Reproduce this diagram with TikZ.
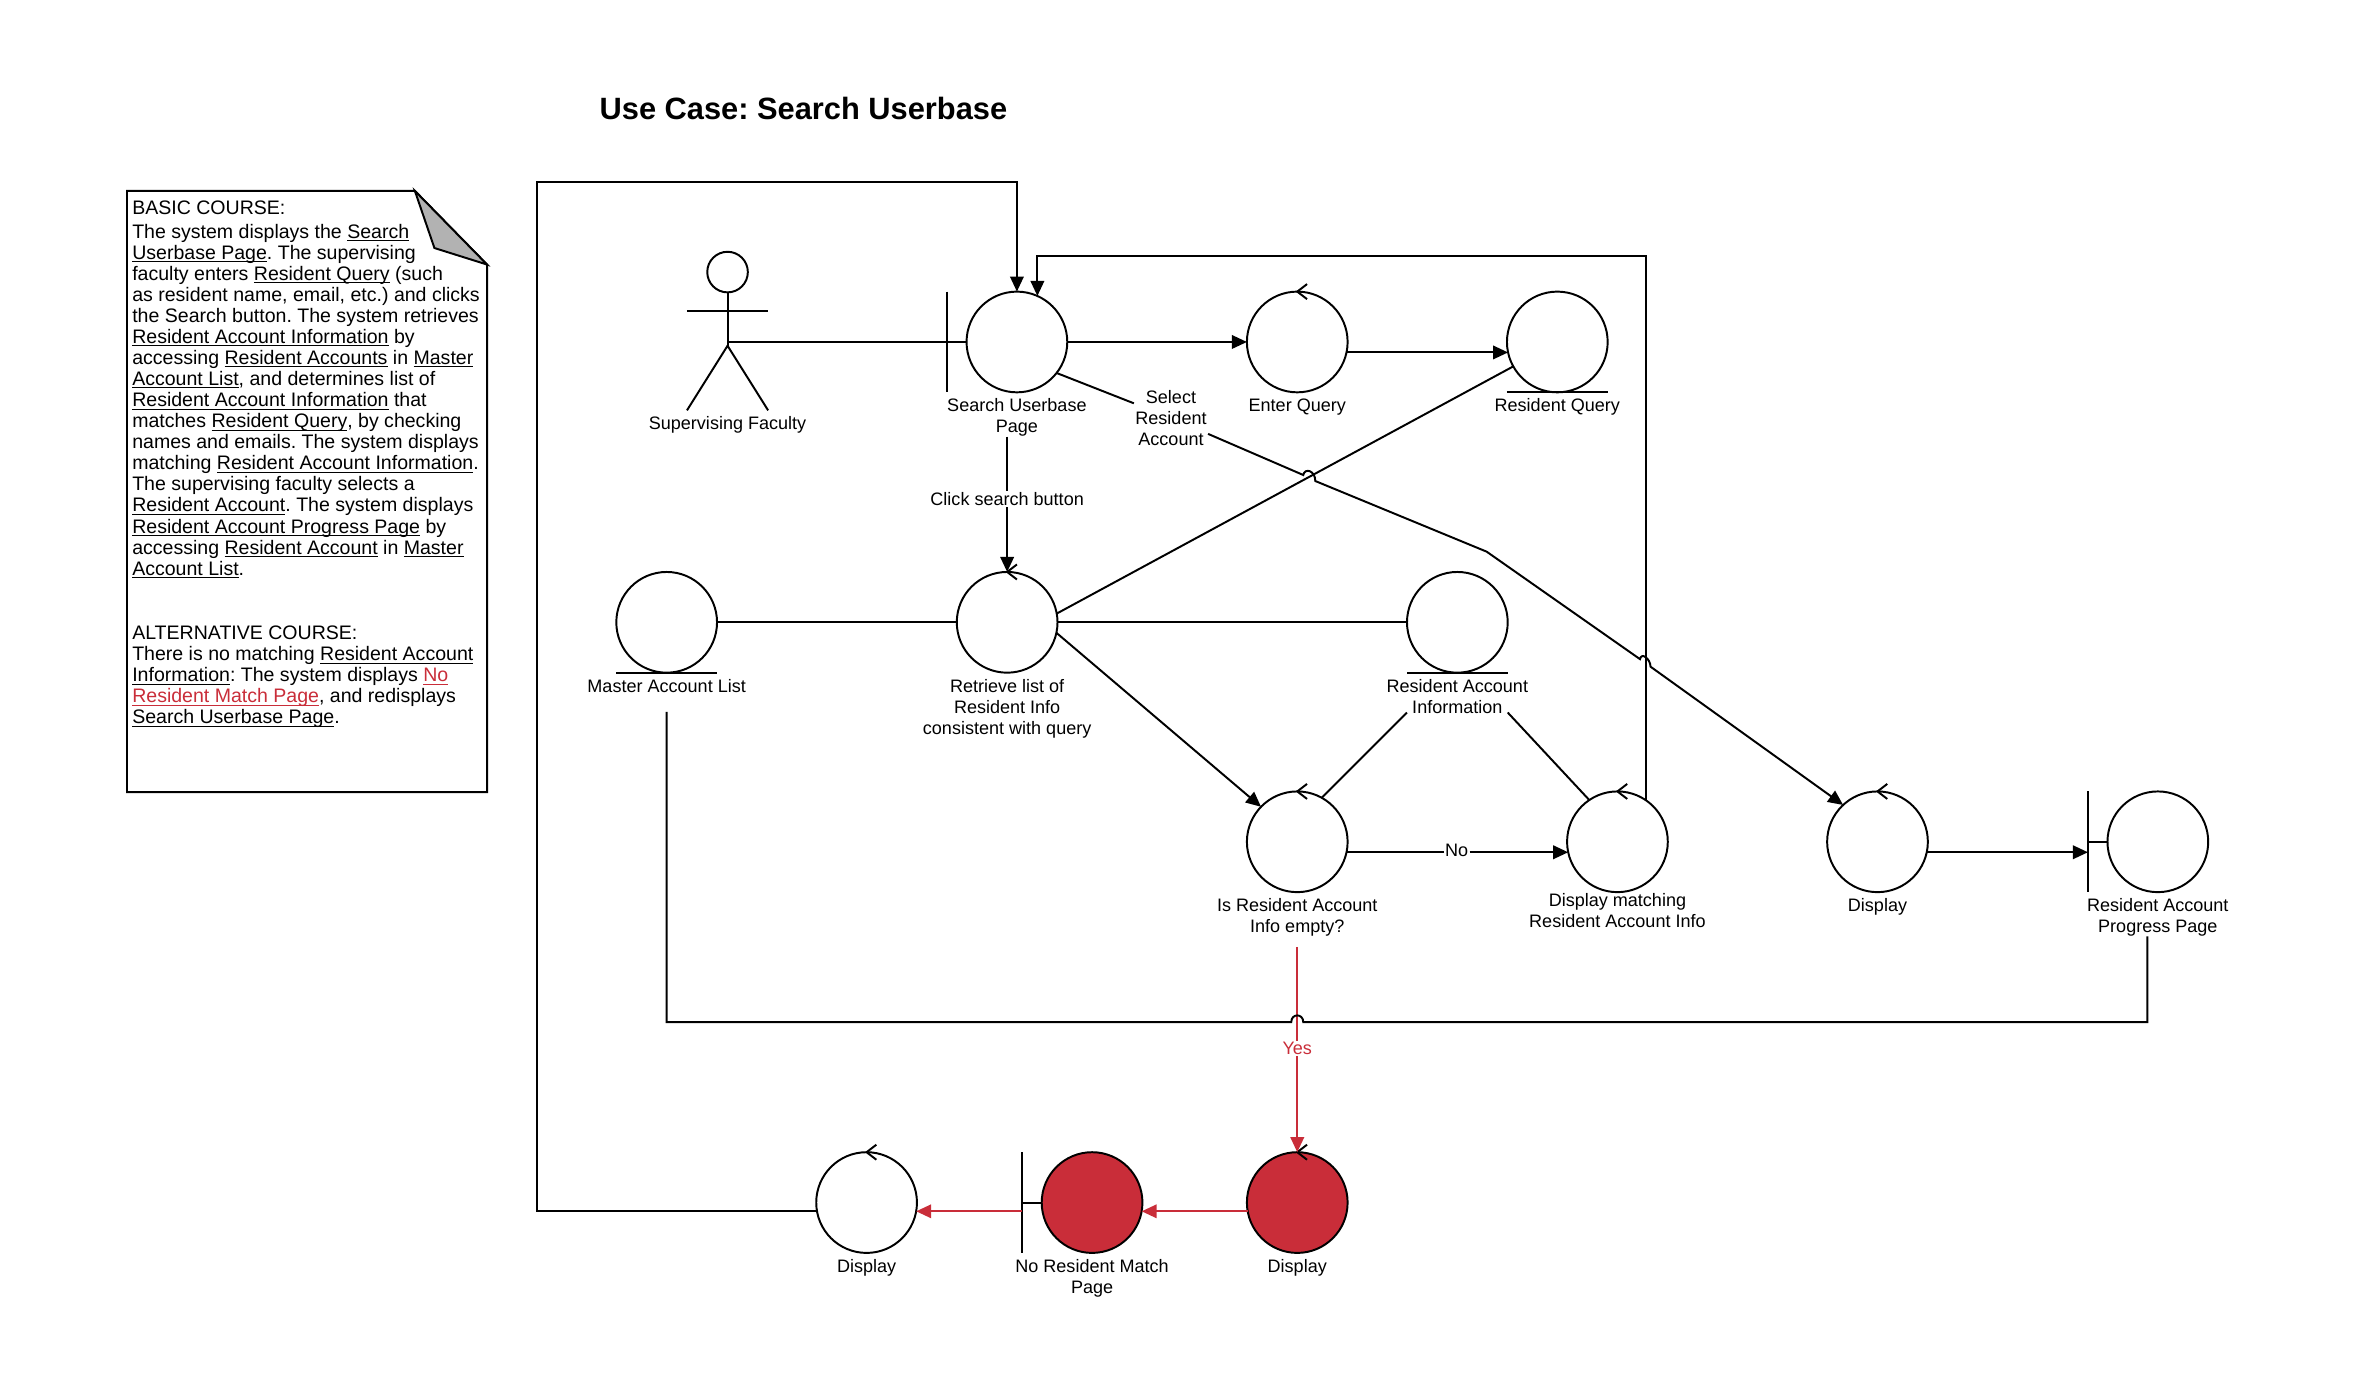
\documentclass[tikz,border=0pt]{standalone}
\usepackage{fontspec}
\setmainfont{Liberation Sans}
\usetikzlibrary{arrows.meta, positioning}
\definecolor{resred}{HTML}{C92D39}
\newcommand{\ulink}[1]{\underline{\smash{#1}}}
\frenchspacing

\begin{document}
\begin{tikzpicture}[
    x=1pt, y=-1pt,
    line width=1.3pt,
    obj/.style={circle, draw, fill=white, minimum size=67pt, inner sep=0pt, outer sep=0pt},
    lbl/.style={inner sep=0pt, outer sep=0pt, align=center, font=\fontsize{12}{14}\selectfont},
    gaplbl/.style={lbl, inner sep=1pt},
    flow/.style={-{Triangle[length=10pt,width=9pt]}},
    redflow/.style={flow, draw=resred}
]
\useasboundingbox (0,0) rectangle (1568,920);

% Title
\node[font=\fontsize{20.5}{24}\selectfont\bfseries] (title) at (534.5,72) {Use Case: Search Userbase};

% Note page
\coordinate (foldtop) at (276,127);
\coordinate (foldin) at (289,165);
\coordinate (foldright) at (324,176);
\draw (84.5,127) -- (foldtop) -- (foldright) -- (324,527) -- (84.5,527) -- cycle;
\draw[fill=black!30] (foldtop) -- (foldin) -- (foldright) -- cycle;
\node[lbl, anchor=north west, align=left, font=\fontsize{13}{14}\selectfont] (course) at (88,133.5) {%
BASIC COURSE:\\[2pt]
The system displays the \ulink{Search}\\
\ulink{Userbase Page}. The supervising\\
faculty enters \ulink{Resident Query} (such\\
as resident name, email, etc.) and clicks\\
the Search button. The system retrieves\\
\ulink{Resident Account Information} by\\
accessing \ulink{Resident Accounts} in \ulink{Master}\\
\ulink{Account List}, and determines list of\\
\ulink{Resident Account Information} that\\
matches \ulink{Resident Query}, by checking\\
names and emails. The system displays\\
matching \ulink{Resident Account Information}.\\
The supervising faculty selects a\\
\ulink{Resident Account}. The system displays\\
\ulink{Resident Account Progress Page} by\\
accessing \ulink{Resident Account} in \ulink{Master}\\
\ulink{Account List}.\\[29pt]
ALTERNATIVE COURSE:\\
There is no matching \ulink{Resident Account}\\
\ulink{Information}: The system displays \textcolor{resred}{\ulink{No}}\\
\textcolor{resred}{\ulink{Resident Match Page}}, and redisplays\\
\ulink{Search Userbase Page}.};

% Actor
\node[circle, draw, minimum size=27pt, inner sep=0pt] (head) at (484,181) {};
\coordinate (waist) at (484,230);
\draw (head) -- (waist);
\draw (457,207) -- (511,207);
\draw (457,273) -- (waist) -- (511,273);
\node[lbl] (actorlbl) at (484,282.4) {Supervising Faculty};

% Top row
\node[obj] (search) at (676.5,227.5) {};
\node[obj, right=119.5pt of search] (enter) {};
\node[obj, right=106pt of enter] (resquery) {};

% Middle row
\node[obj, below=119.5pt of search, xshift=-6.5pt] (retrieve) {};
\node[obj, left=159.5pt of retrieve] (master) {};
\node[obj, right=232.5pt of retrieve] (info) {};

% Lower row
\node[obj, below=265.5pt of enter] (isempty) {};
\node[obj, right=146pt of isempty] (match) {};
\node[obj, right=106pt of match] (dispa) {};
\node[obj, right=119.5pt of dispa] (progress) {};

% Bottom row
\node[obj, below=173pt of isempty, fill=resred] (dispred) {};
\node[obj, left=69.5pt of dispred, fill=resred] (nomatch) {};
\node[obj, left=83pt of nomatch] (dispw) {};

% Labels
\node[lbl, below=4.2pt of search] (searchlbl) {Search Userbase\\Page};
\node[lbl, below=4.2pt of enter] (enterlbl) {Enter Query};
\node[lbl, below=4.2pt of resquery] (resquerylbl) {Resident Query};
\node[lbl, below=4.2pt of retrieve] (retrievelbl) {Retrieve list of\\Resident Info\\consistent with query};
\node[lbl, below=4.2pt of master] (masterlbl) {Master Account List};
\node[lbl, below=4.2pt of info] (infolbl) {Resident Account\\Information};
\node[lbl, below=4.2pt of isempty] (isemptylbl) {Is Resident Account\\Info empty?};
\node[lbl, below=1pt of match] (matchlbl) {Display matching\\Resident Account Info};
\node[lbl, below=4.2pt of dispa] (dispalbl) {Display};
\node[lbl, below=4.2pt of progress] (progresslbl) {Resident Account\\Progress Page};
\node[lbl, below=4.2pt of dispred] (dispredlbl) {Display};
\node[lbl, below=4.2pt of nomatch] (nomatchlbl) {No Resident Match\\Page};
\node[lbl, below=4.2pt of dispw] (dispwlbl) {Display};

% Entity underlines
\foreach \n in {resquery,master,info} {
    \draw (\n.west |- \n.south) -- (\n.east |- \n.south);
}

% Control ticks
\foreach \n in {enter,retrieve,isempty,match,dispa,dispw,dispred} {
    \draw (\n.north) ++(6.5,-5) -- (\n.north) -- ++(6.5,5);
}

% Boundary bars
\foreach \n in {search,progress,nomatch} {
    \coordinate (\n bar) at ([xshift=-13pt]\n.west);
    \draw (\n bar |- \n.north) -- (\n bar |- \n.south);
    \draw (\n bar) -- (\n.west);
}

% Connector points
\node[gaplbl] (clicklbl) at (670,332) {Click search button};
\node[gaplbl] (selectlbl) at (779,278) {Select\\Resident\\Account};
\node[gaplbl] (nolbl) at (969,565.5) {No};
\node[gaplbl, text=resred] (yeslbl) at (863,697.5) {Yes};
\coordinate (hopa) at (867,316);
\coordinate (elbow) at (989,367);
\coordinate (hopb) at (1091,438.5);
\coordinate (hopc) at (859,680);
\coordinate (buscorner) at (1428.5,680);
\coordinate (loopcorner) at (357.5,121);
\coordinate (looptop) at (0,170);
\coordinate (infoleft) at (936,474);
\coordinate (inforight) at (1003,474);

% Arrows
\draw (head |- search) -- (search.west);
\draw[flow] (search) -- (enter);
\draw[flow] (enter.-12) -- (resquery.192);
\draw (searchlbl.south -| retrieve) -- (clicklbl);
\draw[flow] (clicklbl) -- (retrieve.north);
\draw (master) -- (retrieve);
\draw (retrieve) -- (info);
\draw (retrieve.10) -- (resquery.209);
\draw[flow] (retrieve.-12) -- (isempty.136);
\draw (infoleft) -- (isempty.61);
\draw (inforight) -- (match.124);
\draw (isempty.-12) -- (nolbl.west |- isempty.-12);
\draw[flow] (nolbl.east |- match.192) -- (match.192);
\draw[flow] (dispa.-12) -- (progressbar |- dispa.-12);

% Select path with hops
\draw (search.-38) -- (selectlbl);
\draw[flow] (selectlbl) -- (hopa) .. controls +(1,-5) and +(0,-7) .. ++(8,4) -- (elbow) -- (hopb)
    .. controls +(1,-5) and +(0,-5) .. ++(7,5) -- (dispa.133);

% Return loops
\draw[flow] (match.56) |- (search.66 |- looptop) -- (search.66);
\draw[flow] (dispw.190) -| (loopcorner) -| (search.north);

% Alternative course
\draw[draw=resred] ([yshift=-7pt]isemptylbl.south) -- (yeslbl);
\draw[redflow] (yeslbl) -- (dispred.north);
\draw[redflow] (dispred.190) -- (nomatch.-10);
\draw[redflow] (nomatchbar |- dispw.-10) -- (dispw.-10);

% Master list to progress page
\draw ([yshift=-13pt]masterlbl.south) |- (hopc) .. controls +(0,-6) and +(0,-6) .. ++(8,0) -- (buscorner) -- (buscorner |- progresslbl.south);

\end{tikzpicture}
\end{document}
